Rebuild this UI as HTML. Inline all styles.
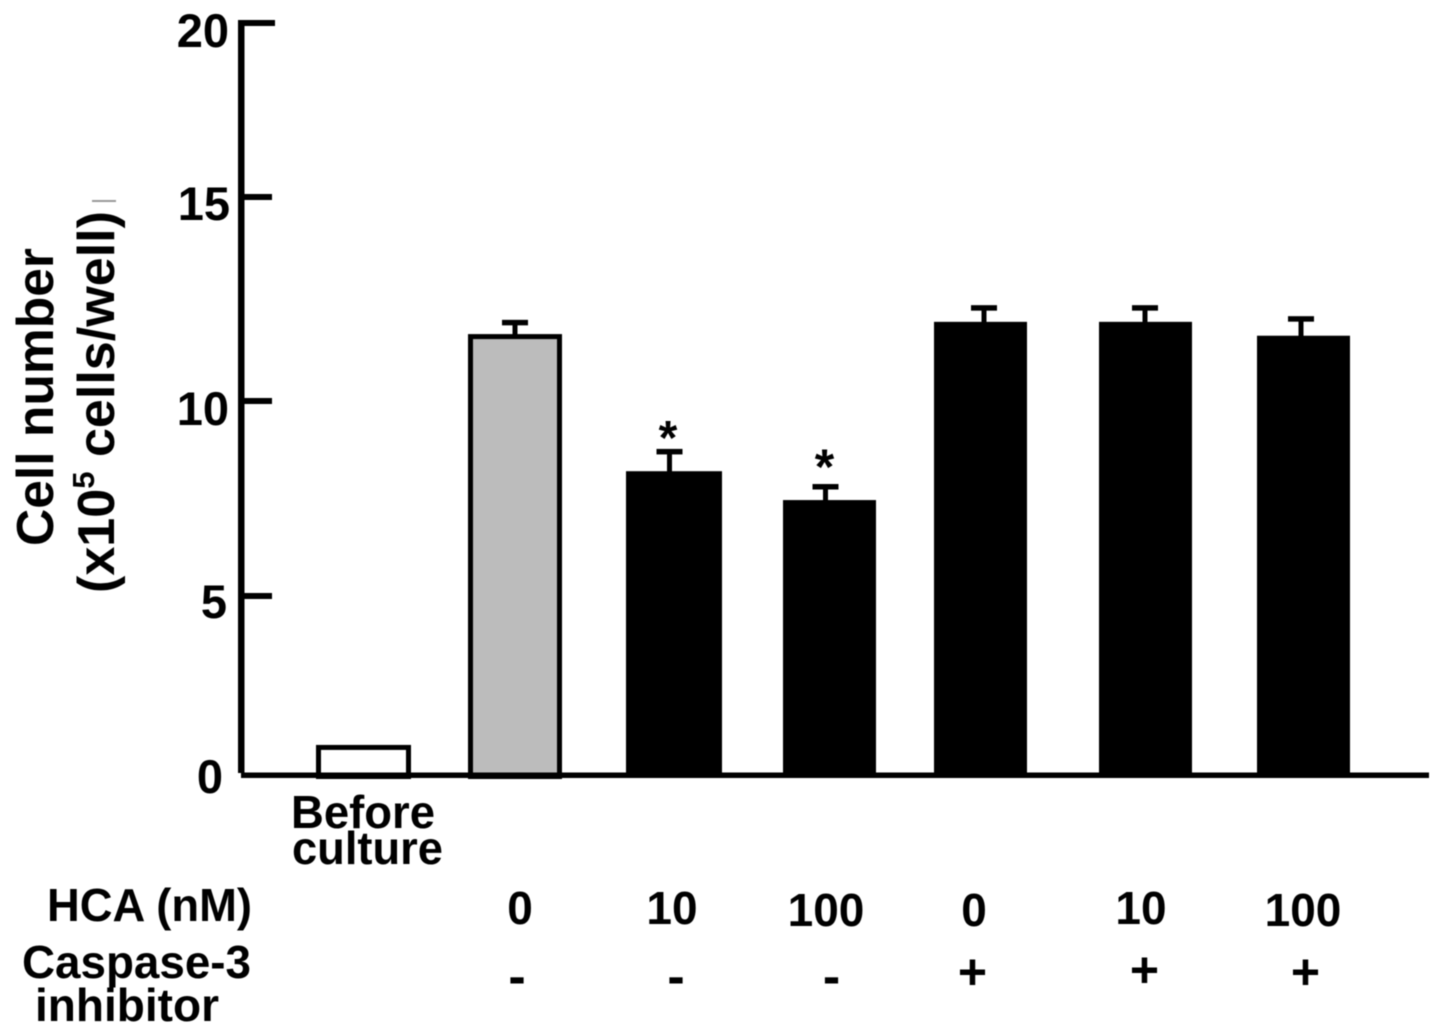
<!DOCTYPE html>
<html lang="en">
<head>
<meta charset="utf-8">
<title>Cell number bar chart</title>
<style>
html,body{margin:0;padding:0;background:#fff;width:1441px;height:1036px;overflow:hidden}
svg{display:block;filter:blur(0.6px)}
text{font-family:"Liberation Sans",sans-serif;font-weight:bold;fill:#000}
</style>
</head>
<body>
<svg id="chart" xmlns="http://www.w3.org/2000/svg" width="1441" height="1036" viewBox="0 0 1441 1036">
  <g id="y-axis-group"></g>
  <g id="bars-group"></g>
  <rect x="241" y="772.5" width="1188" height="5.5" fill="#000"/>
  <rect x="238" y="20" width="6.5" height="753" fill="#000"/>

  <text transform="translate(53,546) rotate(-90)" font-size="52" textLength="298" lengthAdjust="spacingAndGlyphs">Cell number</text>
  <text transform="translate(114,593) rotate(-90)" font-size="52" textLength="382" lengthAdjust="spacingAndGlyphs">(x10<tspan font-size="31" dy="-20">5</tspan><tspan dy="20"> cells/well)</tspan></text>
  <rect x="92" y="200" width="24" height="2" fill="#999"/>

  <text x="291" y="828" font-size="46" textLength="144" lengthAdjust="spacingAndGlyphs">Before</text>
  <text x="292" y="864" font-size="46" textLength="151" lengthAdjust="spacingAndGlyphs">culture</text>

  <text x="47" y="921" font-size="46" textLength="205" lengthAdjust="spacingAndGlyphs">HCA (nM)</text>
  <text x="22" y="978" font-size="46" textLength="229" lengthAdjust="spacingAndGlyphs">Caspase-3</text>
  <text x="35" y="1021" font-size="46" textLength="184" lengthAdjust="spacingAndGlyphs">inhibitor</text>

  <text x="520" y="924" font-size="46" text-anchor="middle">0</text>
  <text x="672" y="924" font-size="46" text-anchor="middle">10</text>
  <text x="826" y="926" font-size="46" text-anchor="middle">100</text>
  <text x="974" y="926" font-size="46" text-anchor="middle">0</text>
  <text x="1141" y="924" font-size="46" text-anchor="middle">10</text>
  <text x="1303" y="926" font-size="46" text-anchor="middle">100</text>

  <text x="517" y="994" font-size="52" text-anchor="middle">-</text>
  <text x="676" y="994" font-size="52" text-anchor="middle">-</text>
  <text x="831.5" y="994" font-size="52" text-anchor="middle">-</text>
  <text x="972.5" y="989" font-size="50" text-anchor="middle">+</text>
  <text x="1144.5" y="987" font-size="50" text-anchor="middle">+</text>
  <text x="1305.5" y="989" font-size="50" text-anchor="middle">+</text>

  <text x="668" y="454" font-size="48" text-anchor="middle">*</text>
  <text x="824.5" y="484" font-size="50" text-anchor="middle">*</text>
</svg>
<script>
const categories = ['before-culture', 'hca-0', 'hca-10', 'hca-100', 'hca-0-inhibitor', 'hca-10-inhibitor', 'hca-100-inhibitor'];
const cellCounts = [0.84, 11.64, 8.2, 7.46, 11.94, 11.94, 11.6];
const errorValues = [0, 0.3, 0.52, 0.36, 0.36, 0.36, 0.43];
const barKinds = ['open', 'gray', 'solid', 'solid', 'solid', 'solid', 'solid'];
const yTickValues = [0, 5, 10, 15, 20];
const yTickLabels = ['0', '5', '10', '15', '20'];

const SVG_NS = 'http://www.w3.org/2000/svg';

// Axis functions. The printed axis is slightly uneven, so y is mapped piecewise per 5-unit segment.
function yScale(v) {
  const knots = [775, 596, 401, 197, 23];
  const seg = Math.max(0, Math.min(3, Math.floor(v / 5)));
  return knots[seg] + (knots[seg + 1] - knots[seg]) * (v - seg * 5) / 5;
}
function xBand(i) {
  const lefts = [316, 468, 626, 783, 934, 1099, 1257];
  const widths = [95, 94, 96, 93, 93, 93, 93];
  return { left: lefts[i], width: widths[i] };
}
function stemX(i) {
  const offsets = [47, 47, 43.5, 42.5, 50, 46, 44];
  return xBand(i).left + offsets[i];
}
function tickLabelBaselineOffset(i) {
  const offsets = [18, 22, 24, 23, 24];
  return offsets[i];
}
function tickLabelRight(i) {
  const rights = [223, 227, 229, 230, 229];
  return rights[i];
}

const yGroup = document.getElementById('y-axis-group');
yTickValues.forEach(function (t, i) {
  const y = yScale(t);
  if (t > 0) {
    const tick = document.createElementNS(SVG_NS, 'rect');
    
    
    tick.setAttribute('x', 241);
    tick.setAttribute('y', y - 3);
    tick.setAttribute('width', t === 20 ? 34 : 31);
    tick.setAttribute('height', 6);
    tick.setAttribute('fill', '#000');
    yGroup.appendChild(tick);
  }
  const lab = document.createElementNS(SVG_NS, 'text');
  
  
  lab.setAttribute('x', tickLabelRight(i));
  lab.setAttribute('y', y + tickLabelBaselineOffset(i));
  lab.setAttribute('font-size', 47);
  lab.setAttribute('text-anchor', 'end');
  lab.textContent = yTickLabels[i];
  yGroup.appendChild(lab);
});

const barsGroup = document.getElementById('bars-group');
categories.forEach(function (cat, i) {
  const band = xBand(i);
  const top = yScale(cellCounts[i]);
  const base = yScale(0);

  if (errorValues[i] > 0) {
    const errTop = yScale(cellCounts[i] + errorValues[i]);
    const sx = stemX(i);
    const stem = document.createElementNS(SVG_NS, 'rect');
    
    
    stem.setAttribute('x', sx - 2.5);
    stem.setAttribute('y', errTop);
    stem.setAttribute('width', 5);
    stem.setAttribute('height', top - errTop + 2);
    stem.setAttribute('fill', '#000');
    barsGroup.appendChild(stem);

    const cap = document.createElementNS(SVG_NS, 'rect');
    
    
    cap.setAttribute('x', sx - 13);
    cap.setAttribute('y', errTop - 2);
    cap.setAttribute('width', 26);
    cap.setAttribute('height', 5.5);
    cap.setAttribute('fill', '#000');
    barsGroup.appendChild(cap);
  }

  const bar = document.createElementNS(SVG_NS, 'rect');
  
  
  const outlined = barKinds[i] !== 'solid';
  const inset = outlined ? 2.5 : 0;
  bar.setAttribute('x', band.left + inset);
  bar.setAttribute('y', top + inset);
  bar.setAttribute('width', band.width - 2 * inset);
  bar.setAttribute('height', base - top - inset + (outlined ? 1.5 : 0));
  bar.setAttribute('fill', barKinds[i] === 'open' ? '#fff' : barKinds[i] === 'gray' ? '#bcbcbc' : '#000');
  if (outlined) {
    bar.setAttribute('stroke', '#000');
    bar.setAttribute('stroke-width', 5);
  }
  barsGroup.appendChild(bar);
});
</script>
</body>
</html>
